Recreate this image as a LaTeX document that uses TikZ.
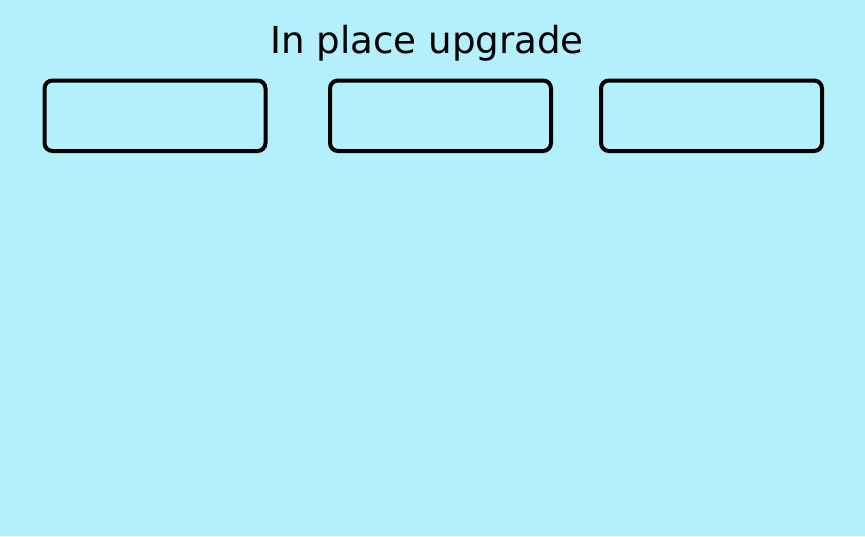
\documentclass[tikz,border=0pt]{standalone}
\usepackage{fontspec}
\setmainfont{DejaVu Sans}
\definecolor{bgcyan}{RGB}{179,240,251}
\tikzset{
  slot/.style={draw=black, line width=4pt, rounded corners=8pt,
    minimum width=221pt, minimum height=70.5pt, inner sep=0pt},
  heading/.style={font=\fontsize{37.2}{44}\selectfont, anchor=base, inner sep=0pt}
}
\begin{document}
\begin{tikzpicture}[x=1pt,y=-1pt]
        \fill[bgcyan] (0,0) rectangle (865,536);%
        \useasboundingbox (0,0) rectangle (865,536);%

        \node[heading] (title) at (427,53) {In place upgrade};%

        \foreach \nm/\cx in {slotA/155, slotB/440.5, slotC/711.5} {%
          \node[slot] (\nm) at (\cx,115.75) {}; }%
      \end{tikzpicture}
\end{document}
